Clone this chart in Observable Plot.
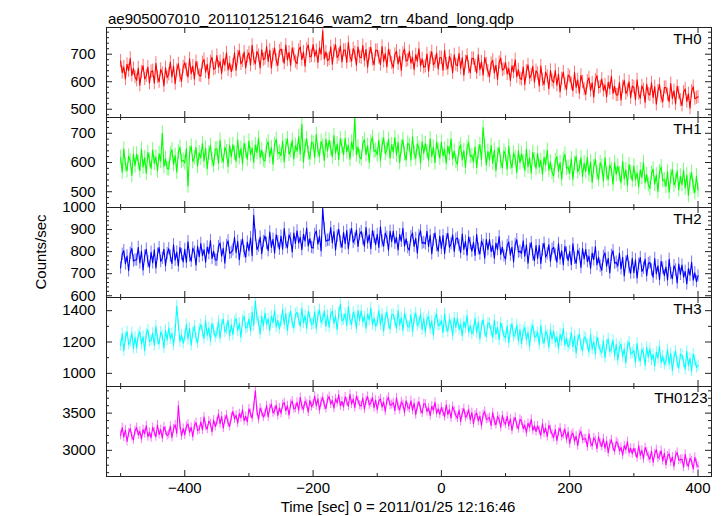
<!DOCTYPE html>
<html>
<head>
<meta charset="utf-8">
<script src="https://cdn.jsdelivr.net/npm/d3@7"></script>
<script src="https://cdn.jsdelivr.net/npm/@observablehq/plot@0.6"></script>
<style>
  body { margin: 0; background: #fff; }
  #chart { position: relative; width: 724px; height: 516px; font-family: "Liberation Sans", Arial, sans-serif; color: #000; overflow: hidden; }
  #chart .panel { position: absolute; left: 0; }
  .txt { position: absolute; font-size: 15px; line-height: 15px; white-space: nowrap; }
</style>
</head>
<body>
<div id="chart"></div>
<script>
// ---- data (2.5 s bins starting at -500 s) ----
const binStart = -500;
const binWidth = 2.5;
const titleText = "ae905007010_20110125121646_wam2_trn_4band_long.qdp";
const xTitle = "Time [sec] 0 = 2011/01/25 12:16:46";
const yTitle = "Counts/sec";
const seriesNames = ["TH0", "TH1", "TH2", "TH3", "TH0123"];
const seriesColors = ["#ff0000", "#00ff00", "#0000ff", "#00ffff", "#ff00ff"];

const th0 = [
675,633,653,610,663,640,685,623,648,617, 605,650,587,635,658,610,621,653,595,637,
640,595,667,617,600,645,630,585,651,615, 627,671,617,657,593,641,665,621,602,654,
669,643,617,683,629,657,609,673,649,623, 621,669,681,635,663,611,673,689,645,649,
695,653,673,630,683,660,705,643,668,637, 660,705,642,690,713,665,676,708,650,692,
705,660,732,682,665,710,695,650,716,680, 684,728,674,714,650,698,722,678,659,711,
719,693,667,733,679,707,659,723,699,673, 666,714,726,680,708,656,718,734,690,694,
735,693,713,670,723,700,785,683,708,677, 682,727,664,712,735,687,698,730,672,714,
715,670,742,692,675,720,705,660,726,690, 687,731,677,717,653,701,725,681,662,714,
714,688,662,728,674,702,654,718,694,668, 651,699,711,665,693,641,703,719,675,679,
710,668,688,645,698,675,720,658,683,652, 656,701,638,686,709,661,672,704,646,688,
687,642,714,664,647,692,677,632,698,662, 658,702,648,688,624,672,696,652,633,685,
684,658,632,698,644,672,624,688,664,638, 618,666,678,632,660,608,670,686,642,646,
670,628,648,605,658,635,680,618,643,612, 608,653,590,638,661,613,624,656,598,640,
630,585,657,607,590,635,620,575,641,605, 597,641,587,627,563,611,635,591,572,624,
619,593,567,633,579,607,559,623,599,573, 554,602,614,568,596,544,606,622,578,582,
610,568,588,545,598,575,620,558,583,552, 552,597,534,582,605,557,568,600,542,584,
580,535,607,557,540,585,570,525,591,555, 552,596,542,582,518,566,590,546,527,579,
579,553,527,593,539,567,519,583,559,533, 514,562,574,528,556,504,566,582,538,542,
545];

const th1 = [
617,567,646,591,572,622,606,556,629,589, 629,601,572,645,585,616,563,634,607,579,
643,597,619,571,630,604,700,586,613,579, 578,630,644,593,624,567,635,652,604,608,
598,648,520,631,656,603,616,651,587,633, 616,665,605,649,579,632,658,610,589,646,
647,597,676,621,602,652,636,586,659,619, 661,633,604,677,617,648,595,666,639,611,
673,627,649,601,660,634,684,616,643,609, 605,657,671,620,651,594,662,679,631,635,
623,673,603,656,681,628,641,676,612,658, 639,688,628,730,602,655,681,633,612,669,
667,617,696,641,622,672,656,606,679,639, 676,648,619,692,632,663,610,681,654,626,
683,637,659,611,670,644,752,626,653,619, 612,664,678,627,658,601,669,686,638,642,
626,676,606,659,684,631,644,679,615,661, 636,685,625,669,599,652,678,630,609,666,
659,609,688,633,614,664,648,598,671,631, 665,637,608,681,621,652,599,670,643,615,
669,623,645,597,656,630,680,612,639,605, 594,646,660,609,640,583,651,668,620,624,
603,653,583,636,661,608,720,656,592,638, 609,658,598,642,572,625,651,603,582,639,
627,577,656,601,582,632,616,566,639,599, 630,602,573,646,586,617,564,635,608,580,
631,585,607,559,618,592,642,574,601,567, 554,606,620,569,600,543,611,628,580,584,
563,613,543,596,621,568,581,616,552,598, 569,618,558,602,532,585,611,563,542,599,
587,537,616,561,542,592,576,526,599,559, 588,560,531,604,544,575,522,593,566,538,
588,542,564,516,575,549,599,531,558,524, 511,563,577,526,557,500,568,585,537,541,
518,568,498,551,576,523,536,571,507,553, 524,573,513,557,487,540,566,518,497,554,
505];

const th2 = [
726,788,804,744,780,713,793,814,757,762, 762,819,749,801,717,780,811,754,729,797,
749,808,726,788,818,755,770,811,736,791, 813,779,746,831,761,798,735,818,787,753,
810,751,845,780,757,816,797,738,824,777, 837,782,808,752,821,791,850,769,802,762,
761,823,839,779,815,748,828,849,792,797, 808,865,795,847,763,826,857,800,775,843,
804,863,781,965,873,810,825,866,791,846, 871,837,804,889,819,856,793,876,845,811,
870,811,905,840,817,876,857,798,884,837, 894,839,865,809,878,848,907,826,859,819,
816,878,894,834,870,803,995,904,847,852, 852,909,839,891,807,870,901,844,819,887,
836,895,813,875,905,842,857,898,823,878, 891,857,824,909,839,876,813,896,865,831,
878,819,913,848,825,884,865,806,892,845, 893,838,864,808,877,847,906,825,858,818,
806,868,884,824,860,793,873,894,837,842, 835,892,822,874,790,853,884,827,802,870,
814,873,791,853,883,820,835,876,801,856, 862,828,795,880,810,847,784,867,836,802,
842,783,877,812,789,848,829,770,856,809, 855,800,826,770,839,809,868,787,820,780,
766,828,844,784,820,753,833,854,797,802, 792,849,779,831,747,810,841,784,759,827,
769,828,746,808,838,775,790,831,756,811, 819,785,752,837,767,804,741,824,793,759,
800,741,835,770,747,806,787,728,814,767, 809,754,780,724,793,763,822,741,774,734,
716,778,794,734,770,703,783,804,747,752, 735,792,722,774,690,753,784,727,702,770,
704,763,681,743,773,710,725,766,691,746, 751,717,684,769,699,736,673,756,725,691,
730,671,765,700,677,736,717,658,744,697, 739,684,710,654,723,693,752,671,704,664,
690];

const th3 = [
1176,1253,1145,1227,1266,1184,1203,1258,1159,1230, 1162,1244,1264,1186,1234,1145,1251,1278,1203,1210,
1256,1179,1301,1216,1187,1264,1239,1162,1274,1213, 1291,1220,1254,1180,1271,1430,1308,1203,1245,1192,
1236,1311,1219,1287,1179,1260,1301,1226,1194,1282, 1311,1267,1222,1335,1243,1290,1209,1318,1277,1233,
1256,1333,1225,1307,1346,1264,1283,1338,1239,1310, 1247,1329,1349,1271,1319,1230,1336,1363,1288,1295,
1346,1269,1391,1306,1462,1354,1329,1252,1364,1303, 1384,1313,1347,1273,1364,1324,1401,1296,1338,1285,
1331,1406,1314,1382,1274,1355,1396,1321,1289,1377, 1389,1345,1300,1413,1321,1368,1287,1396,1355,1311,
1316,1393,1285,1367,1406,1324,1343,1398,1299,1370, 1295,1377,1397,1319,1367,1278,1384,1440,1336,1343,
1381,1304,1426,1341,1312,1389,1364,1287,1399,1338, 1399,1328,1362,1288,1379,1339,1416,1311,1353,1300,
1326,1401,1309,1377,1269,1350,1391,1316,1284,1372, 1376,1332,1287,1400,1308,1355,1274,1383,1342,1298,
1296,1373,1265,1347,1386,1304,1323,1378,1279,1350, 1262,1344,1364,1286,1334,1245,1351,1378,1303,1310,
1336,1259,1381,1296,1267,1344,1319,1242,1354,1293, 1351,1280,1314,1240,1331,1291,1368,1263,1305,1252,
1276,1351,1259,1327,1219,1300,1341,1266,1234,1322, 1316,1272,1227,1340,1248,1295,1214,1323,1282,1238,
1226,1303,1195,1277,1316,1234,1253,1308,1209,1280, 1190,1272,1292,1214,1262,1173,1279,1306,1231,1238,
1261,1184,1306,1221,1192,1269,1244,1167,1279,1218, 1269,1198,1232,1158,1249,1209,1286,1181,1223,1170,
1186,1261,1169,1237,1129,1210,1251,1176,1144,1232, 1224,1180,1135,1248,1156,1203,1122,1231,1190,1146,
1131,1208,1100,1182,1221,1139,1158,1213,1114,1185, 1084,1166,1186,1108,1156,1067,1173,1200,1125,1132,
1146,1069,1191,1106,1077,1154,1129,1052,1164,1103, 1156,1085,1119,1045,1136,1096,1173,1068,1110,1057,
1076,1151,1059,1127,1019,1100,1141,1066,1034,1122, 1116,1072,1027,1140,1048,1095,1014,1123,1082,1038,
1050];

const th0123 = [
3201,3306,3177,3273,3119,3234,3292,3186,3141,3266, 3307,3206,3254,3151,3278,3223,3331,3182,3242,3168,
3308,3245,3183,3341,3212,3279,3164,3317,3260,3197, 3217,3325,3174,3289,3344,3229,3600,3332,3193,3294,
3208,3324,3352,3242,3309,3184,3333,3372,3266,3276, 3381,3273,3446,3326,3285,3393,3357,3249,3407,3321,
3381,3486,3357,3453,3299,3414,3472,3366,3321,3446, 3522,3421,3469,3366,3493,3438,3546,3397,3457,3383,
3558,3495,3433,3591,3800,3529,3414,3567,3510,3447, 3492,3600,3449,3564,3619,3504,3530,3607,3468,3569,
3498,3614,3642,3532,3599,3474,3623,3662,3556,3566, 3646,3538,3711,3591,3550,3658,3622,3514,3672,3586,
3621,3726,3597,3693,3539,3654,3712,3606,3561,3686, 3722,3621,3669,3566,3693,3638,3746,3597,3657,3583,
3718,3655,3593,3751,3622,3689,3574,3727,3670,3607, 3597,3705,3554,3669,3724,3609,3635,3712,3573,3674,
3548,3664,3692,3582,3649,3524,3673,3712,3606,3616, 3641,3533,3706,3586,3545,3653,3617,3509,3667,3581,
3561,3666,3537,3633,3479,3594,3652,3546,3501,3626, 3622,3521,3569,3466,3593,3538,3646,3497,3557,3483,
3578,3515,3453,3611,3482,3549,3434,3587,3530,3467, 3432,3540,3389,3504,3559,3444,3470,3547,3408,3509,
3358,3474,3502,3392,3459,3334,3483,3522,3416,3426, 3441,3333,3506,3386,3345,3453,3417,3309,3467,3381,
3351,3456,3327,3423,3269,3384,3442,3336,3291,3416, 3392,3291,3339,3236,3363,3308,3416,3267,3327,3253,
3328,3265,3203,3361,3232,3299,3184,3337,3280,3217, 3172,3280,3129,3244,3299,3184,3210,3287,3148,3249,
3088,3204,3232,3122,3189,3064,3213,3252,3146,3156, 3156,3048,3221,3101,3060,3168,3132,3024,3182,3096,
3051,3156,3027,3123,2969,3084,3142,3036,2991,3116, 3092,2991,3039,2936,3063,3008,3116,2967,3027,2953,
3028,2965,2903,3061,2932,2999,2884,3037,2980,2917, 2882,2990,2839,2954,3009,2894,2920,2997,2858,2959,
2808,2924,2952,2842,2909,2784,2933,2972,2866,2876, 2881,2773,2946,2826,2785,2893,2857,2749,2907,2821,
2780];

const seriesErrors = [24, 25, 28, 36, 60];

// ---- axis settings ----
const xDomain = [-522, 421];
const xMajorTicks = [-400, -200, 0, 200, 400];
const xMinorTicks = [-500, -300, -100, 100, 300];
const yDomains = [[470, 797], [446, 754], [592, 1000], [916, 1484], [2648, 3858]];
const yMajorTicks = [[500, 600, 700], [500, 600, 700], [600, 700, 800, 900, 1000], [1000, 1200, 1400], [3000, 3500]];
const yMinorStep = [20, 20, 20, 100, 100];

// ---- layout ----
const W = 724, mL = 106, mR = 13;
const innerW = W - mL - mR;
const bounds = [27, 117, 207, 297, 386, 476];
const labelDx = [-10, -10, -10, -10, -4];
const allSeries = [th0, th1, th2, th3, th0123];
const chart = document.getElementById("chart");
const ink = "#222";

allSeries.forEach((vals, i) => {
  const h = bounds[i + 1] - bounds[i];
  const isLast = i === allSeries.length - 1;
  const extraBottom = isLast ? 40 : 0;
  const err = seriesErrors[i];
  const color = seriesColors[i];
  const data = vals.map((v, k) => ({t: binStart + k * binWidth, v}));
  const [d0, d1] = yDomains[i];
  const step = yMinorStep[i];
  const majors = yMajorTicks[i];
  const minors = d3.range(Math.ceil(d0 / step) * step, d1 + 1e-9, step).filter(v => !majors.includes(v));
  const marks = [
    Plot.ruleX(data, {x: "t", y1: d => d.v - err, y2: d => d.v + err, stroke: color, strokeOpacity: 0.55, strokeWidth: 1, clip: true}),
    Plot.line(data, {x: "t", y: "v", stroke: color, strokeWidth: 1.1, clip: true}),
    Plot.ruleY(majors, {stroke: ink, insetRight: innerW - 6}),
    Plot.ruleY(majors, {stroke: ink, insetLeft: innerW - 6}),
    Plot.ruleY(minors, {stroke: ink, insetRight: innerW - 3}),
    Plot.ruleY(minors, {stroke: ink, insetLeft: innerW - 3}),
    Plot.ruleX(xMajorTicks, {stroke: ink, insetTop: h - 6}),
    Plot.ruleX(xMajorTicks, {stroke: ink, insetBottom: h - 6}),
    Plot.ruleX(xMinorTicks, {stroke: ink, insetTop: h - 3}),
    Plot.ruleX(xMinorTicks, {stroke: ink, insetBottom: h - 3}),
    Plot.axisY({ticks: majors, tickFormat: "d", anchor: "left", tickSize: 0, tickPadding: 11, fontSize: 15, label: null, fill: "#000"}),
    Plot.text([seriesNames[i]], {frameAnchor: "top-right", dx: labelDx[i], dy: 5.7, lineAnchor: "top", textAnchor: "end", fontSize: 15, fill: "#000"}),
    Plot.frame({stroke: ink, strokeWidth: 1})
  ];
  if (isLast) {
    marks.push(Plot.axisX({ticks: xMajorTicks, tickFormat: "d", anchor: "bottom", tickSize: 0, tickPadding: 6, fontSize: 15, label: null, fill: "#000"}));
  }
  const svg = Plot.plot({
    width: W,
    height: h + 1 + extraBottom,
    marginLeft: mL,
    marginRight: mR,
    marginTop: 0,
    marginBottom: 1 + extraBottom,
    style: {background: "transparent", overflow: "visible", fontFamily: "'Liberation Sans', Arial, sans-serif", fontSize: "15px"},
    x: isLast ? {domain: xDomain} : {domain: xDomain, axis: null},
    y: {domain: yDomains[i]},
    marks
  });
  svg.classList.add("panel");
  svg.style.top = bounds[i] + "px";
  chart.appendChild(svg);
});

function addText(text, css) {
  const d = document.createElement("div");
  d.className = "txt";
  d.textContent = text;
  Object.assign(d.style, css);
  chart.appendChild(d);
}
addText(titleText, {left: "108px", top: "11px"});
addText(xTitle, {left: "398px", top: "499px", transform: "translateX(-50%)"});
addText(yTitle, {left: "40px", top: "252px", transform: "translate(-50%, -50%) rotate(-90deg)"});
</script>
</body>
</html>
